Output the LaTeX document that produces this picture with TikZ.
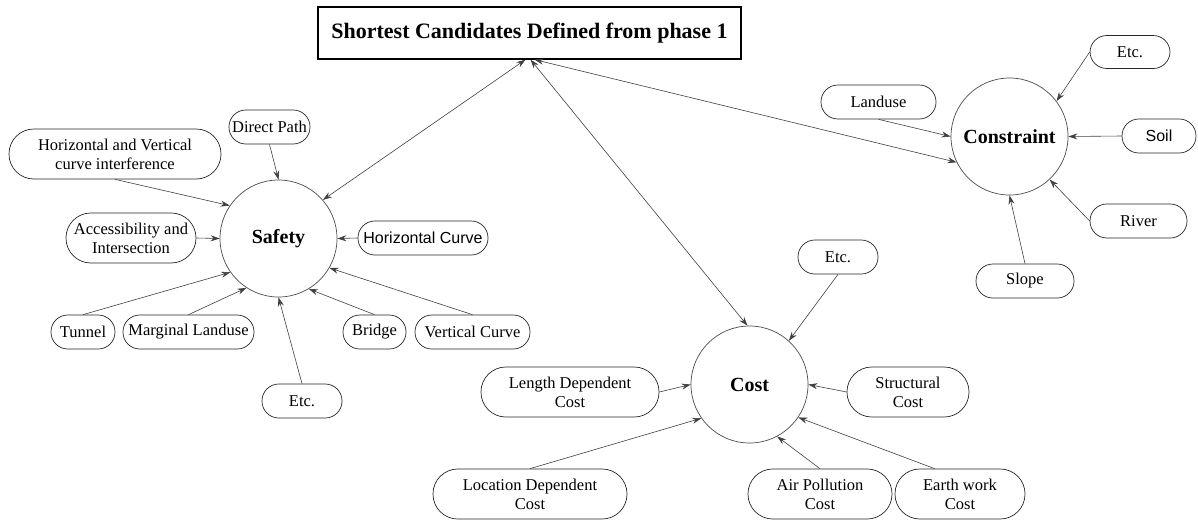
\documentclass[tikz,border=0pt]{standalone}
\usepackage{fontspec}
\setmainfont{Liberation Serif}
\newfontfamily\arialfont{Liberation Sans}
\usetikzlibrary{arrows.meta,calc}
\tikzset{
  ln/.style={draw=black!75, line width=0.6pt},
  arr/.style={ln, -{Stealth[length=9pt,width=6pt]}},
  darr/.style={ln, {Stealth[length=9pt,width=6pt]}-{Stealth[length=9pt,width=6pt]}},
  hub/.style={circle, draw=black!70, line width=0.7pt, minimum size=117pt, inner sep=0pt,
     font=\fontsize{20}{23}\selectfont\bfseries},
  pill/.style={draw=black!85, line width=0.7pt, rounded corners=16.8pt, minimum height=34pt,
     inner sep=0pt, align=center, font=\fontsize{16.5}{19}\selectfont, minimum width=#1},
  pillL/.style={draw=black!85, line width=0.7pt, rounded corners=24.8pt, minimum height=50pt,
     inner sep=0pt, align=center, font=\fontsize{16.5}{19}\selectfont, minimum width=#1},
  titlebox/.style={draw=black, line width=1.2pt, minimum width=423pt, minimum height=52pt,
     inner sep=0pt, font=\fontsize{22}{25}\selectfont\bfseries}
}
\begin{document}
\begin{tikzpicture}[x=1pt,y=-1pt]
\useasboundingbox (0,0) rectangle (1198,520);
% main nodes
\node[titlebox] (title) at (529.5,33) {Shortest Candidates Defined from phase 1};
\node[hub] (safety) at (278.5,238.5) {Safety};
\node[hub] (cost) at (749.5,384.5) {Cost};
\node[hub] (constr) at (1009.5,136.5) {Constraint};
% safety group
\node[pillL=212pt] (hv) at (115,154) {Horizontal and Vertical\\curve interference};
\node[pill=81pt] (direct) at (269.5,127) {Direct Path};
\node[pillL=130pt] (access) at (131,238) {Accessibility and\\Intersection};
\node[pill=130pt, font=\fontsize{16}{19}\selectfont\arialfont] (hcurve) at (423,238) {Horizontal Curve};
\node[pill=64pt] (tunnel) at (83,332) {Tunnel};
\node[pill=131pt] (marg) at (188.5,332) {Marginal Landuse};
\node[pill=63pt] (bridge) at (374.5,332) {Bridge};
\node[pill=115pt] (vcurve) at (472.5,332) {Vertical Curve};
\node[pill=80pt] (etcS) at (302,401) {Etc.};
% cost group
\node[pill=80pt] (etcC) at (838,257) {Etc.};
\node[pillL=178pt] (lenC) at (570,392) {Length Dependent\\Cost};
\node[pillL=122pt] (strC) at (908,392) {Structural\\Cost};
\node[pillL=194pt] (locC) at (530,494) {Location Dependent\\Cost};
\node[pillL=144pt] (airC) at (820,494) {Air Pollution\\Cost};
\node[pillL=130pt] (earthC) at (960,494) {Earth work\\Cost};
% constraint group
\node[pill=80pt, minimum height=33pt] (etcK) at (1130,52) {Etc.};
\node[pill=115pt] (land) at (878.5,102) {Landuse};
\node[pill=74pt, font=\fontsize{16}{19}\selectfont\arialfont] (soil) at (1159,136) {Soil};
\node[pill=97pt] (river) at (1138.5,221) {River};
\node[pill=98pt] (slope) at (1025,281) {Slope};
% title links
\draw[darr] ($(title.south)+(-4,0)$) -- (safety.41);
\draw[darr] ($(title.south)+(1,0)$) -- (cost.92);
\draw[darr] ($(title.south)+(5,0)$) -- (constr.206);
% safety links
\draw[arr] (hv.south) -- (safety.146);
\draw[arr] (direct.south) -- (safety.90);
\draw[arr] (access.east) -- (safety.180);
\draw[arr] (hcurve.west) -- (safety.0);
\draw[arr] (tunnel.north) -- (safety.215);
\draw[arr] (marg.north) -- (safety.237);
\draw[arr] (bridge.north) -- (safety.301);
\draw[arr] (vcurve.north) -- (safety.330);
\draw[arr] (etcS.north) -- (safety.270);
% cost links
\draw[arr] (etcC.south) -- (cost.48);
\draw[arr] (lenC.east) -- (cost.180);
\draw[arr] (strC.west) -- (cost.0);
\draw[arr] (locC.north) -- (cost.215);
\draw[arr] (airC.north) -- (cost.298);
\draw[arr] (earthC.135) -- (cost.326);
% constraint links
\draw[arr] (etcK.west) -- (constr.37);
\draw[arr] (land.south) -- (constr.180);
\draw[arr] (soil.west) -- (constr.0);
\draw[arr] (river.west) -- (constr.313);
\draw[arr] (slope.north) -- (constr.270);
\end{tikzpicture}
\end{document}
